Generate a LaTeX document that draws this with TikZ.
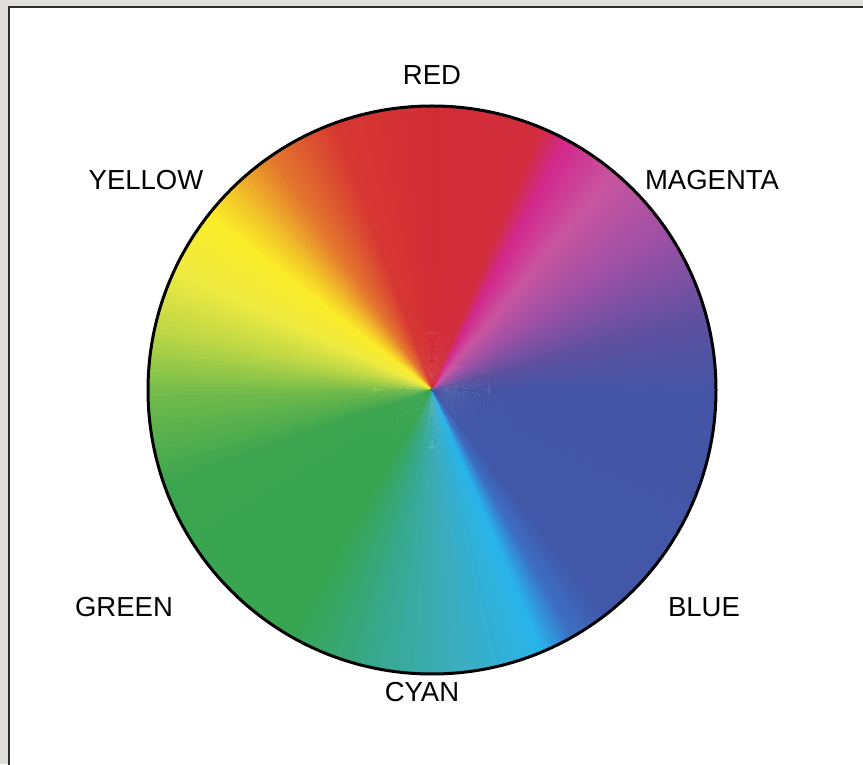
\documentclass[tikz,border=0pt]{standalone}
\usepackage{fontspec}
\setmainfont{Liberation Sans}
\usetikzlibrary{positioning}

\definecolor{framegray}{RGB}{224,222,217}
\definecolor{framedark}{RGB}{45,45,45}
\definecolor{sA}{RGB}{68,85,165}
\definecolor{sB}{RGB}{95,80,160}
\definecolor{sC}{RGB}{160,80,165}
\definecolor{sD}{RGB}{200,85,160}
\definecolor{sE}{RGB}{210,40,140}
\definecolor{sF}{RGB}{210,45,60}
\definecolor{sG}{RGB}{210,45,55}
\definecolor{sH}{RGB}{215,55,50}
\definecolor{sI}{RGB}{228,120,45}
\definecolor{sJ}{RGB}{242,195,40}
\definecolor{sK}{RGB}{250,236,40}
\definecolor{sL}{RGB}{240,235,65}
\definecolor{sM}{RGB}{190,215,70}
\definecolor{sN}{RGB}{110,185,75}
\definecolor{sO}{RGB}{60,165,80}
\definecolor{sP}{RGB}{55,165,80}
\definecolor{sQ}{RGB}{55,168,140}
\definecolor{sR}{RGB}{60,173,192}
\definecolor{sS}{RGB}{40,180,235}
\definecolor{sT}{RGB}{60,110,195}
\definecolor{sU}{RGB}{65,88,168}

\begin{document}
\begin{tikzpicture}[x=1pt, y=1pt,
    wheellabel/.style={font=\fontsize{27.5}{31}\selectfont, inner sep=0pt}]
    \useasboundingbox (0,0) rectangle (863,764);
    \clip (0,0) rectangle (863,764);

    % frame
    \fill[framegray] (0,0) rectangle (863,764);
    \fill[white] (9,0) rectangle (863,756);
    \draw[framedark, line width=2] (8.5,-5) -- (8.5,756.5) -- (870,756.5);

    % colour wheel
    \coordinate (wc) at (432,374);
    \begin{scope}[shift={(wc)}]
        \foreach \aa/\ca/\ab/\cb in {0/sA/15/sB, 15/sB/35/sC, 35/sC/50/sD, 50/sD/62/sE,
            62/sE/68/sF, 68/sF/90/sG, 90/sG/110/sH, 110/sH/125/sI, 125/sI/135/sJ,
            135/sJ/142/sK, 142/sK/155/sL, 155/sL/168/sM, 168/sM/182/sN, 182/sN/200/sO,
            200/sO/240/sP, 240/sP/258/sQ, 258/sQ/276/sR, 276/sR/293/sS, 293/sS/300/sT,
            300/sT/308/sU, 308/sU/360/sA}{
            \foreach \ang in {\aa,...,\ab}{
                \pgfmathsetmacro\mixp{100*(\ab-\ang)/(\ab-\aa)}
                \fill[\ca!\mixp!\cb] (\ang+180:1.5) -- (\ang-0.7:284)
                    arc[start angle=\ang-0.7, end angle=\ang+0.7, radius=284] -- cycle;
            }
        }
    \end{scope}
    \draw[black, line width=3] (wc) circle[radius=284];

    % labels
    \node[wheellabel] (red) at (432,689) {RED};
    \node[wheellabel] (yellow) at (146,584) {YELLOW};
    \node[wheellabel] (magenta) at (712,584) {MAGENTA};
    \node[wheellabel] (green) at (124,157) {GREEN};
    \node[wheellabel] (blue) at (704,157) {BLUE};
    \node[wheellabel] (cyan) at (422,72) {CYAN};
\end{tikzpicture}
\end{document}
